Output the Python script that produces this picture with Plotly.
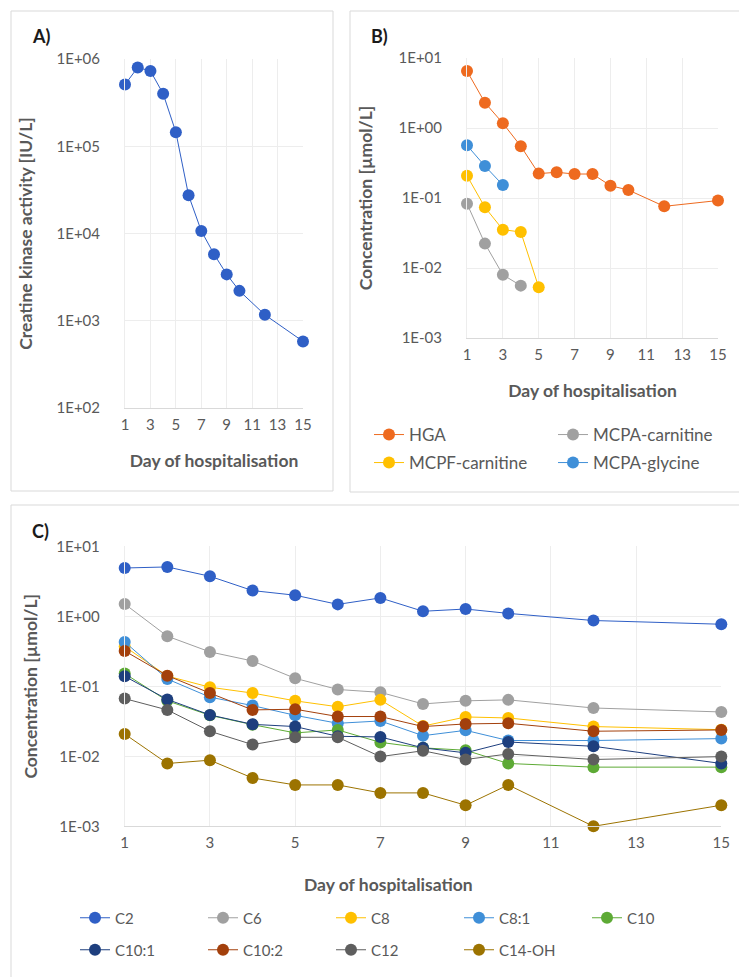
import plotly.graph_objects as go

W, H = 747, 977

# ---------------- data ----------------
ck_days = [1, 2, 3, 4, 5, 6, 7, 8, 9, 10, 12, 15]
ck_values = [5.1e5, 8.0e5, 7.3e5, 4.0e5, 1.45e5, 2.74e4, 1.07e4, 5.8e3, 3.4e3, 2.2e3, 1.17e3, 5.8e2]

hga_days = [1, 2, 3, 4, 5, 6, 7, 8, 9, 10, 12, 15]
hga_values = [6.5, 2.3, 1.17, 0.55, 0.223, 0.233, 0.22, 0.22, 0.15, 0.13, 0.076, 0.092]
mcpa_carnitine_days = [1, 2, 3, 4]
mcpa_carnitine_values = [0.083, 0.0223, 0.008, 0.0056]
mcpf_carnitine_days = [1, 2, 3, 4, 5]
mcpf_carnitine_values = [0.208, 0.0736, 0.0353, 0.0327, 0.0053]
mcpa_glycine_days = [1, 2, 3]
mcpa_glycine_values = [0.565, 0.286, 0.153]

acyl_days = [1, 2, 3, 4, 5, 6, 7, 8, 9, 10, 12, 15]
c2 = [4.9, 5.07, 3.73, 2.33, 2.0, 1.48, 1.83, 1.18, 1.27, 1.10, 0.87, 0.77]
c6 = [1.5, 0.52, 0.31, 0.23, 0.13, 0.09, 0.082, 0.056, 0.062, 0.064, 0.049, 0.043]
c8 = [0.37, 0.14, 0.097, 0.080, 0.062, 0.051, 0.064, 0.027, 0.0365, 0.0353, 0.0266, 0.024]
c8_1 = [0.43, 0.127, 0.070, 0.053, 0.0385, 0.0296, 0.032, 0.0197, 0.0235, 0.0168, 0.0168, 0.0179]
c10 = [0.152, 0.062, 0.0385, 0.0283, 0.0216, 0.0238, 0.0158, 0.0132, 0.0122, 0.0079, 0.007, 0.007]
c10_1 = [0.139, 0.065, 0.039, 0.0286, 0.0266, 0.0193, 0.0189, 0.0132, 0.0112, 0.016, 0.0139, 0.0079]
c10_2 = [0.32, 0.142, 0.080, 0.046, 0.047, 0.037, 0.037, 0.0266, 0.029, 0.0296, 0.0228, 0.0238]
c12 = [0.0667, 0.046, 0.0228, 0.0147, 0.0187, 0.0187, 0.0099, 0.012, 0.009, 0.0108, 0.009, 0.0099]
c14_oh = [0.0208, 0.0079, 0.0088, 0.0049, 0.0039, 0.0039, 0.003, 0.003, 0.002, 0.0039, 0.001, 0.002]

x_ticks = [1, 3, 5, 7, 9, 11, 13, 15]
ck_ticks = [1e2, 1e3, 1e4, 1e5, 1e6]
ck_ticktext = ["1E+02", "1E+03", "1E+04", "1E+05", "1E+06"]
conc_ticks = [1e-3, 1e-2, 1e-1, 1e0, 1e1]
conc_ticktext = ["1E-03", "1E-02", "1E-01", "1E+00", "1E+01"]

FONT = "Lato"
GREY_TXT = "#595959"
GRID = "#EDEDED"
AXLINE = "#D9D9D9"
TITLE_SIZE = 17.5

fig = go.Figure()


def add(x, y, name, color, xa, ya, legend=None):
    fig.add_trace(go.Scatter(
        x=x, y=y, name=name, mode="lines+markers",
        line=dict(color=color, width=1),
        marker=dict(color=color, size=12),
        xaxis=xa, yaxis=ya, cliponaxis=False,
        showlegend=legend is not None,
        legend=legend if legend else "legend",
    ))


# Panel A
add(ck_days, ck_values, "Creatine kinase", "#2F5FC6", "x", "y")

# Panel B
add(hga_days, hga_values, "HGA", "#EE6A1F", "x2", "y2", "legend")
add(mcpa_carnitine_days, mcpa_carnitine_values, "MCPA-carnitine", "#A0A0A0", "x2", "y2", "legend")
add(mcpf_carnitine_days, mcpf_carnitine_values, "MCPF-carnitine", "#FFC000", "x2", "y2", "legend2")
add(mcpa_glycine_days, mcpa_glycine_values, "MCPA-glycine", "#3F8FD8", "x2", "y2", "legend2")

# Panel C
add(acyl_days, c2, "C2", "#2F5FC6", "x3", "y3", "legend3")
add(acyl_days, c6, "C6", "#A0A0A0", "x3", "y3", "legend3")
add(acyl_days, c8, "C8", "#FFC000", "x3", "y3", "legend3")
add(acyl_days, c8_1, "C8:1", "#3F8FD8", "x3", "y3", "legend3")
add(acyl_days, c10, "C10", "#5DAA35", "x3", "y3", "legend3")
add(acyl_days, c10_1, "C10:1", "#1E3F7E", "x3", "y3", "legend4")
add(acyl_days, c10_2, "C10:2", "#A3400C", "x3", "y3", "legend4")
add(acyl_days, c12, "C12", "#5E5E5E", "x3", "y3", "legend4")
add(acyl_days, c14_oh, "C14-OH", "#9C7300", "x3", "y3", "legend4")


def xaxis(domain, anchor, title=None):
    d = dict(domain=domain, anchor=anchor, range=[1, 15], tickvals=x_ticks,
             showgrid=True, gridcolor=GRID, gridwidth=1, zeroline=False,
             showline=True, linecolor=AXLINE, linewidth=1, ticks="",
             ticklabelstandoff=3,
             tickfont=dict(family=FONT, size=15, color=GREY_TXT))
    if title:
        d["title"] = dict(text=title, standoff=22,
                          font=dict(family=FONT, size=TITLE_SIZE, color=GREY_TXT, weight="bold"))
    return d


def yaxis(domain, anchor, rng, tv, tt, title, standoff):
    return dict(domain=domain, anchor=anchor, type="log", range=rng,
                tickvals=tv, ticktext=tt,
                showgrid=True, gridcolor=GRID, gridwidth=1, zeroline=False,
                showline=True, linecolor=GRID, linewidth=1, ticks="",
                ticklabelstandoff=21,
                tickfont=dict(family=FONT, size=15, color=GREY_TXT),
                title=dict(text=title, standoff=standoff,
                           font=dict(family=FONT, size=TITLE_SIZE, color=GREY_TXT, weight="bold")))


def px(v):
    return v / W


def py(v):
    return 1 - v / H


fig.update_layout(
    width=W, height=H,
    margin=dict(l=0, r=0, t=0, b=0, autoexpand=False),
    paper_bgcolor="white", plot_bgcolor="white",
    font=dict(family=FONT, color=GREY_TXT),
    xaxis=xaxis([px(117), px(295)], "y", "Day of hospitalisation"),
    yaxis=yaxis([py(400), py(51)], "x", [2, 6], ck_ticks, ck_ticktext,
                "Creatine kinase activity [IU/L]", 19),
    xaxis2=xaxis([px(459), px(710)], "y2", "Day of hospitalisation"),
    yaxis2=yaxis([py(330), py(50)], "x2", [-3, 1], conc_ticks, conc_ticktext,
                 "Concentration [µmol/L]", 21),
    xaxis3=xaxis([px(116.7), px(713.3)], "y3"),
    yaxis3=yaxis([py(818.3), py(538.3)], "x3", [-3, 1], conc_ticks, conc_ticktext,
                 "Concentration [µmol/L]", 14),
    legend=dict(orientation="h", x=px(361), y=py(427), xanchor="left", yanchor="middle",
                entrywidth=139, font=dict(family=FONT, size=17, color=GREY_TXT),
                bgcolor="rgba(0,0,0,0)"),
    legend2=dict(orientation="h", x=px(361), y=py(455), xanchor="left", yanchor="middle",
                 entrywidth=139, font=dict(family=FONT, size=17, color=GREY_TXT),
                 bgcolor="rgba(0,0,0,0)"),
    legend3=dict(orientation="h", x=px(67), y=py(910), xanchor="left", yanchor="middle",
                 entrywidth=83, font=dict(family=FONT, size=15, color=GREY_TXT),
                 bgcolor="rgba(0,0,0,0)"),
    legend4=dict(orientation="h", x=px(67), y=py(942), xanchor="left", yanchor="middle",
                 entrywidth=83, font=dict(family=FONT, size=15, color=GREY_TXT),
                 bgcolor="rgba(0,0,0,0)"),
    showlegend=True,
)

# panel frames
for (x0, y0, x1, y1) in [(3, 3, 325, 483), (342, 3, 743, 484), (3, 497, 743, 975)]:
    fig.add_shape(type="rect", xref="paper", yref="paper",
                  x0=px(x0), x1=px(x1), y0=py(y1), y1=py(y0),
                  line=dict(color="#D9D9D9", width=1), fillcolor="rgba(0,0,0,0)", layer="below")

# panel labels
for text, xx, yy in [("A)", 22, 28), ("B)", 361, 28), ("C)", 22, 523)]:
    fig.add_annotation(text=text, x=px(xx), y=py(yy), xref="paper", yref="paper",
                       xanchor="left", yanchor="middle", showarrow=False,
                       font=dict(family=FONT, size=18, color="#1A1A1A", weight="bold"))

# Panel C x-axis title
fig.add_annotation(text="Day of hospitalisation", x=px(380), y=py(876), xref="paper", yref="paper",
                   xanchor="center", yanchor="middle", showarrow=False,
                   font=dict(family=FONT, size=TITLE_SIZE, color=GREY_TXT, weight="bold"))

fig.write_html("out.html")
